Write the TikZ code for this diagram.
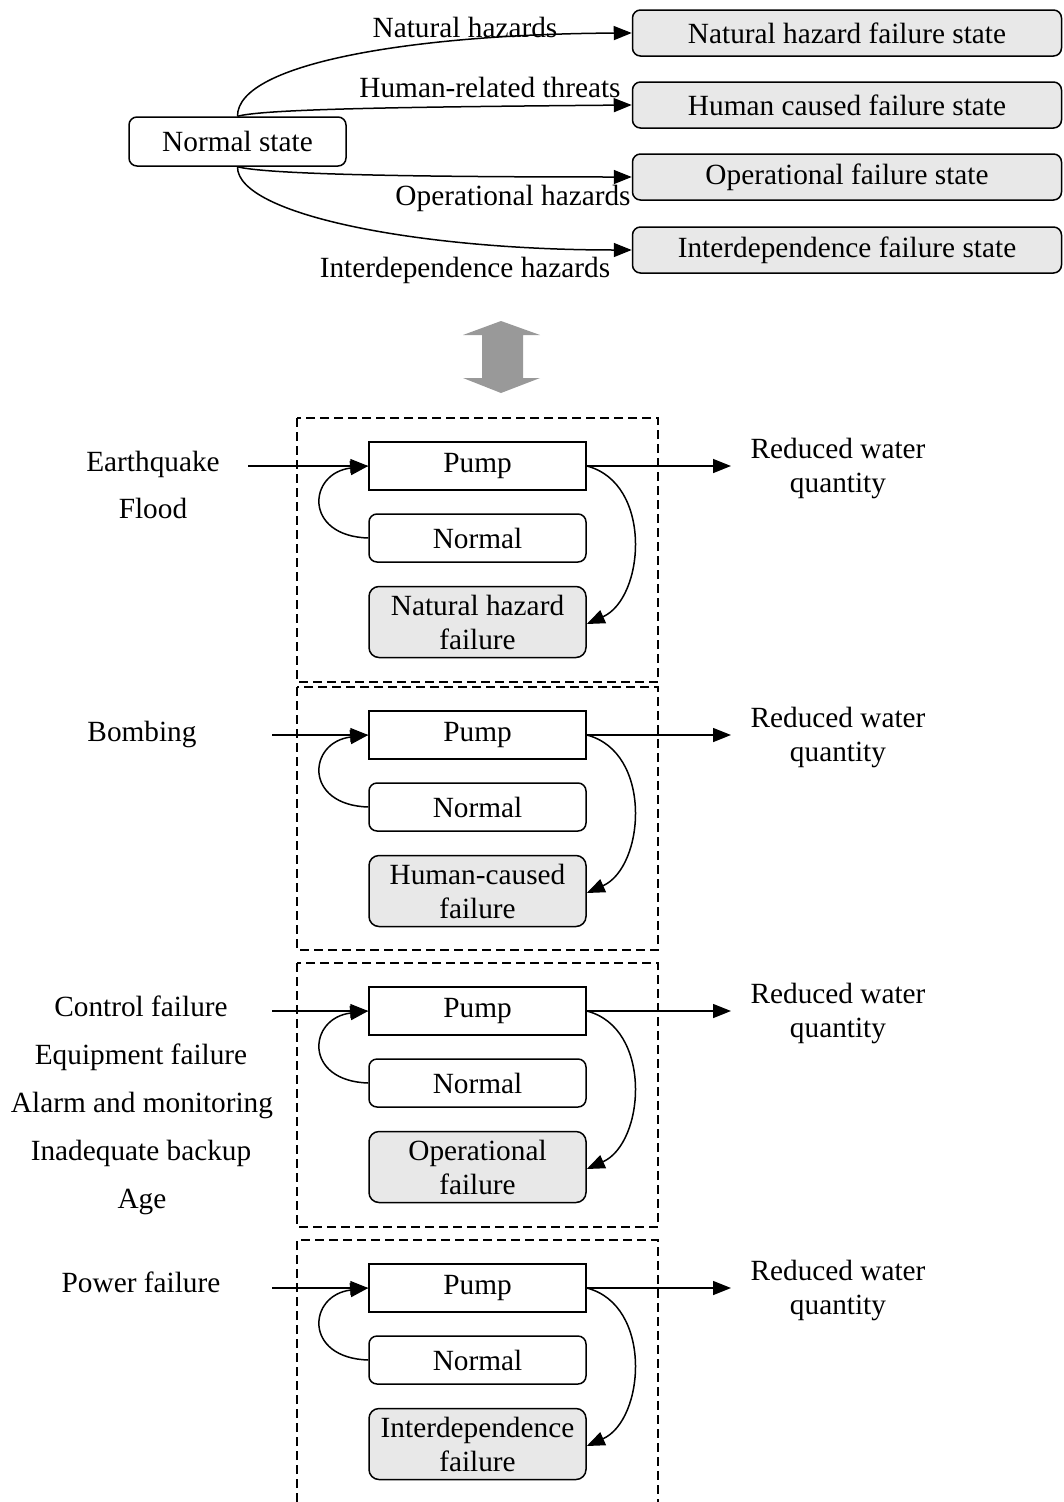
\documentclass[tikz,border=0pt]{standalone}
\usepackage{fontspec}
\setmainfont{Liberation Serif}
\usetikzlibrary{arrows.meta}
\definecolor{failgray}{HTML}{E8E8E8}
\definecolor{bigarrow}{HTML}{999999}
\tikzset{
  base/.style={font=\fontsize{29.3}{34}\selectfont},
  statebox/.style={base,draw,line width=1.5pt,rounded corners=8pt,inner sep=0pt,minimum width=429pt,minimum height=46pt,fill=failgray},
  normbox/.style={base,draw,line width=1.5pt,rounded corners=8pt,inner sep=0pt,minimum width=217pt,minimum height=49pt},
  pumpbox/.style={base,draw,line width=1.5pt,inner sep=0pt,minimum width=217pt,minimum height=48pt},
  smallbox/.style={base,draw,line width=1.5pt,rounded corners=8pt,inner sep=0pt,minimum width=217pt,minimum height=48pt},
  failbox/.style={base,draw,line width=1.5pt,rounded corners=10pt,inner sep=0pt,minimum width=217pt,minimum height=71pt,fill=failgray,align=center},
  lbl/.style={base,anchor=base,inner sep=0pt},
  conn/.style={line width=1.5pt,-{Triangle[length=18pt,width=14pt]}},
  dashbox/.style={line width=1.5pt,dash pattern=on 9pt off 5pt},
}
\newcommand\pumpblock[5]{%
  % #1 id, #2 top y, #3 failure text, #4 input start x, #5 dashed outline
  \draw[dashbox] #5;
  \node[pumpbox] (p#1) at (477.5,{#2+48}) {Pump};
  \node[smallbox] (n#1) at (477.5,{#2+120}) {Normal};
  \node[failbox] (f#1) at (477.5,{#2+204}) {#3};
  \coordinate (in#1) at (#4,{#2+48});
  \coordinate (out#1) at (731,{#2+48});
  \draw[conn] (in#1) -- (p#1.west);
  \draw[conn] (p#1.east) -- (out#1);
  \draw[conn] (n#1.west) .. controls (303,{#2+118}) and (308,{#2+55}) .. (p#1.west);
  \draw[conn] (p#1.east) .. controls (653,{#2+65}) and (645,{#2+180}) .. ([yshift=-2pt]f#1.east);
  \node[base,inner sep=0pt,align=center] (r#1) at (838,{#2+50}) {Reduced water\\[0pt]quantity};
}
\begin{document}
\begin{tikzpicture}[x=1pt,y=-1pt]
\useasboundingbox (0,0) rectangle (1063,1502);
% top part
\node[normbox] (ns) at (237.5,141.5) {Normal state};
\node[statebox] (s1) at (847,33) {Natural hazard failure state};
\node[statebox] (s2) at (847,105) {Human caused failure state};
\node[statebox] (s3) at (847,177) {Operational failure state};
\node[statebox] (s4) at (847,250) {Interdependence failure state};
\draw[conn] (ns.north) .. controls (237,62) and (420,34) .. (s1.west);
\draw[conn] (ns.north) .. controls (265,109) and (400,107) .. (s2.west);
\draw[conn] (ns.south) .. controls (265,174) and (400,177) .. (s3.west);
\draw[conn] (ns.south) .. controls (237,215) and (420,250) .. (s4.west);
\node[lbl] (l1) at (465,37) {Natural hazards};
\node[lbl] (l2) at (490,97) {Human-related threats};
\node[lbl] (l3) at (513,205) {Operational hazards};
\node[lbl] (l4) at (465,277) {Interdependence hazards};
% big double arrow
\fill[bigarrow] (501,321) -- (540,335) -- (523,335) -- (523,378) -- (540,378) -- (501,393) -- (463,378) -- (482,378) -- (482,335) -- (463,335) -- cycle;
% blocks
\pumpblock{1}{418}{Natural hazard\\failure}{248}{(297,418) rectangle (658,682)}
\pumpblock{2}{687}{Human-caused\\failure}{272}{(297,687) rectangle (658,950)}
\pumpblock{3}{963}{Operational\\failure}{272}{(297,963) rectangle (658,1227)}
\pumpblock{4}{1240}{Interdependence\\failure}{272}{(297,1502) -- (297,1240) -- (658,1240) -- (658,1502)}
% input labels
\node[lbl] (e1) at (153,471) {Earthquake};
\node[lbl] (e2) at (153,518) {Flood};
\node[lbl] (e3) at (142,741) {Bombing};
\node[lbl] (e4) at (141,1016) {Control failure};
\node[lbl] (e5) at (141,1064) {Equipment failure};
\node[lbl] (e6) at (142,1112) {Alarm and monitoring};
\node[lbl] (e7) at (141,1160) {Inadequate backup};
\node[lbl] (e8) at (142,1208) {Age};
\node[lbl] (e9) at (141,1292) {Power failure};
\end{tikzpicture}
\end{document}
